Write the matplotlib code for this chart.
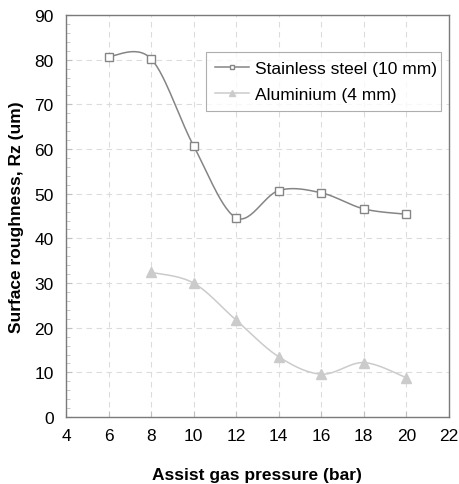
import numpy as np
import matplotlib
matplotlib.use("Agg")
import matplotlib.pyplot as plt
from matplotlib.ticker import MultipleLocator

plt.rcParams["font.family"] = ["Liberation Sans", "DejaVu Sans"]

# Values
steel_p = [6, 8, 10, 12, 14, 16, 18, 20]
steel_rz = [80.7, 80.2, 60.7, 44.6, 50.7, 50.2, 46.6, 45.4]
alu_p = [8, 10, 12, 14, 16, 18, 20]
alu_rz = [32.4, 30.0, 21.7, 13.5, 9.6, 12.2, 8.8]


def smooth(x, y, n=30):
    # Catmull-Rom style curve through the points, like a spreadsheet "smoothed line"
    x = np.asarray(x, float)
    y = np.asarray(y, float)
    px = np.concatenate([[x[0]], x, [x[-1]]])
    py = np.concatenate([[y[0]], y, [y[-1]]])
    xs, ys = [], []
    t = np.linspace(0, 1, n)
    for i in range(1, len(px) - 2):
        p0, p1, p2, p3 = [np.array([px[j], py[j]]) for j in (i - 1, i, i + 1, i + 2)]
        c1 = p1 + (p2 - p0) / 6
        c2 = p2 - (p3 - p1) / 6
        b = ((1 - t) ** 3)[:, None] * p1 + (3 * (1 - t) ** 2 * t)[:, None] * c1 \
            + (3 * (1 - t) * t ** 2)[:, None] * c2 + (t ** 3)[:, None] * p2
        xs.append(b[:, 0])
        ys.append(b[:, 1])
    return np.concatenate(xs), np.concatenate(ys)


fig = plt.figure(figsize=(4.59, 4.85), dpi=100)
ax = fig.add_axes([0.1438, 0.138, 0.834, 0.829])

steel_c = "#858585"
alu_c = "#cbcbcb"

sx, sy = smooth(steel_p, steel_rz)
ax.plot(sx, sy, color=steel_c, lw=1.1, zorder=3)
ax.plot(steel_p, steel_rz, ls="none", marker="s", ms=6, mfc="white", mec=steel_c, mew=1.0, zorder=4)
ax.plot([], [], color=steel_c, lw=1.1, marker="s", ms=6, mfc="white", mec=steel_c,
        label="Stainless steel (10 mm)")

ax_, ay_ = smooth(alu_p, alu_rz)
ax.plot(ax_, ay_, color=alu_c, lw=1.1, zorder=3)
ax.plot(alu_p, alu_rz, ls="none", marker="^", ms=7, mfc=alu_c, mec=alu_c, zorder=4)
ax.plot([], [], color=alu_c, lw=1.1, marker="^", ms=7, mfc=alu_c, mec=alu_c,
        label="Aluminium (4 mm)")

ax.set_xlim(4, 22)
ax.set_ylim(0, 90)
ax.xaxis.set_major_locator(MultipleLocator(2))
ax.yaxis.set_major_locator(MultipleLocator(10))
ax.yaxis.set_minor_locator(MultipleLocator(2))
ax.grid(True, which="major", ls=(0, (5, 4)), color="#dcdcdc", lw=0.8)
ax.set_axisbelow(True)

for s in ax.spines.values():
    s.set_color("#7a7a7a")
    s.set_linewidth(1.0)
ax.tick_params(axis="both", which="major", direction="in", length=4, color="#c0c0c0",
               labelsize=12.5, pad=8)
ax.tick_params(axis="y", which="minor", direction="in", length=3, color="#c0c0c0")
ax.tick_params(axis="y", which="major", pad=9)

ax.set_xlabel("Assist gas pressure (bar)", fontsize=12.5, fontweight="bold", labelpad=17)
ax.set_ylabel("Surface roughness, Rz (um)", fontsize=12.5, fontweight="bold", labelpad=7)

# legend box placed where the reference has it (axes fractions)
leg = ax.legend(loc="upper left", bbox_to_anchor=(0.3655, 0.908, 0.614, 0.0),
                mode="expand", borderaxespad=0, fontsize=12.5, markerscale=0.6,
                frameon=True, fancybox=False, borderpad=0.5, handlelength=2.0,
                labelspacing=0.65, handletextpad=0.35)
leg.get_frame().set_edgecolor("#9a9a9a")
leg.get_frame().set_linewidth(0.8)

fig.savefig("out.png", dpi=100)
